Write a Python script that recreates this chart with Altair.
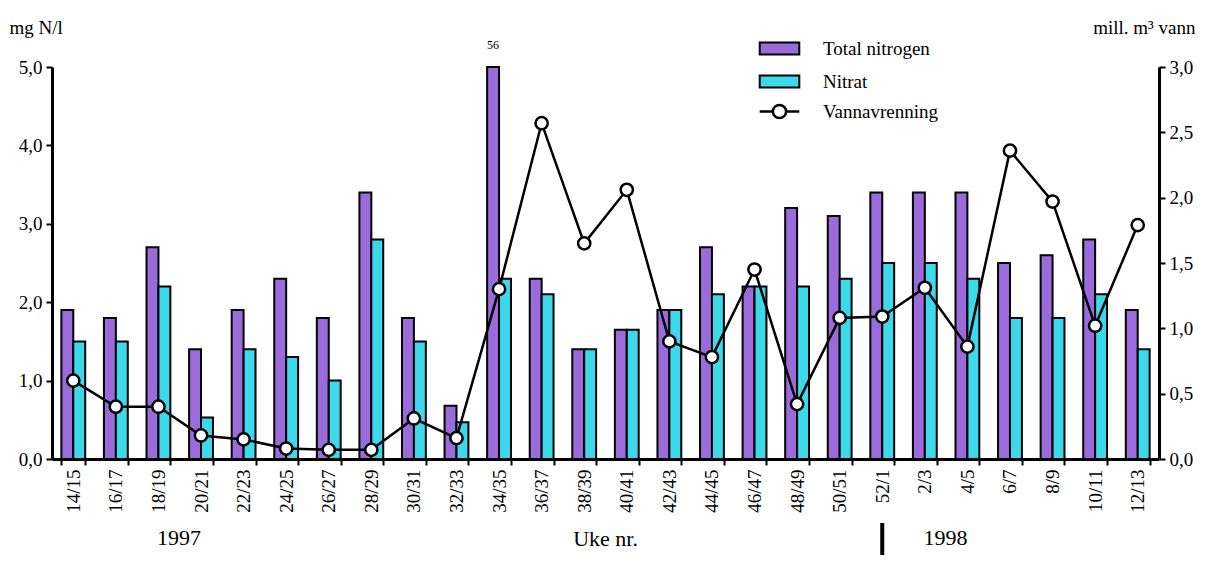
import altair as alt
import pandas as pd

weeks = ["14/15", "16/17", "18/19", "20/21", "22/23", "24/25", "26/27", "28/29",
         "30/31", "32/33", "34/35", "36/37", "38/39", "40/41", "42/43", "44/45",
         "46/47", "48/49", "50/51", "52/1", "2/3", "4/5", "6/7", "8/9", "10/11", "12/13"]
total_n = [1.9, 1.8, 2.7, 1.4, 1.9, 2.3, 1.8, 3.4, 1.8, 0.68, 56, 2.3, 1.4, 1.65,
           1.9, 2.7, 2.2, 3.2, 3.1, 3.4, 3.4, 3.4, 2.5, 2.6, 2.8, 1.9]
nitrat = [1.5, 1.5, 2.2, 0.53, 1.4, 1.3, 1.0, 2.8, 1.5, 0.47, 2.3, 2.1, 1.4, 1.65,
          1.9, 2.1, 2.2, 2.2, 2.3, 2.5, 2.5, 2.3, 1.8, 1.8, 2.1, 1.4]
runoff = [0.60, 0.40, 0.40, 0.18, 0.15, 0.08, 0.07, 0.07, 0.31, 0.16, 1.30, 2.57,
          1.65, 2.06, 0.90, 0.78, 1.45, 0.42, 1.08, 1.09, 1.31, 0.86, 2.36, 1.97,
          1.02, 1.79]
series = ["Total nitrogen", "Nitrat"]
colors = ["#9b6bdb", "#3cd9ea"]
line_label = "Vannavrenning"
year_labels = ["1997", "1998"]
year_anchor = ["20/21", "4/5"]
year_break = ["52/1"]

FONT = "Liberation Serif"
W, H = 1107, 392
FS = 19

bars_df = pd.DataFrame({
    "week": weeks * 2,
    "series": [series[0]] * len(weeks) + [series[1]] * len(weeks),
    "value": total_n + nitrat,
})
line_df = pd.DataFrame({"week": weeks, "runoff": runoff, "label": [line_label] * len(weeks)})
years_df = pd.DataFrame({"week": year_anchor, "text": year_labels})
break_df = pd.DataFrame({"week": year_break})

comma = "replace(format(datum.value, '.1f'), '.', ',')"

xscale = alt.Scale(domain=weeks, paddingInner=0.44, paddingOuter=0.22)
x_enc = alt.X("week:N", sort=weeks, scale=xscale, axis=alt.Axis(
    title="Uke nr.", labelAngle=270, tickBand="extent", tickSize=6, tickWidth=2,
    tickColor="black", domainColor="black", domainWidth=3, labelFont=FONT,
    labelFontSize=FS, labelColor="black", labelPadding=4, titleFont=FONT,
    titleFontSize=22, titleFontWeight="normal", titleColor="black",
    titleX=553, titleY=86, titleAlign="center", titleBaseline="alphabetic", grid=False))

y_left = alt.Y("value:Q", scale=alt.Scale(domain=[0, 5], clamp=True, nice=False),
    axis=alt.Axis(title="mg N/l", orient="left",
                  values=[0, 0.5, 1, 1.5, 2, 2.5, 3, 3.5, 4, 4.5, 5],
                  labelExpr="datum.value % 1 == 0 ? " + comma + " : ''",
                  tickSize=6, tickWidth=2, tickColor="black", domainColor="black",
                  domainWidth=3, labelFont=FONT, labelFontSize=FS, labelColor="black",
                  labelPadding=4, titleFont=FONT, titleFontSize=FS,
                  titleFontWeight="normal", titleColor="black", titleAngle=0,
                  titleAlign="left", titleBaseline="alphabetic", titleX=-43, titleY=-34,
                  grid=False))

rect_path = "M-3.3,-1H3.3V1H-3.3Z"
bars = alt.Chart(bars_df).mark_bar(stroke="black", strokeWidth=2).encode(
    x=x_enc,
    xOffset=alt.XOffset("series:N", sort=series,
                        scale=alt.Scale(domain=series, paddingInner=0, paddingOuter=0)),
    y=y_left,
    fill=alt.Fill("series:N", sort=series, scale=alt.Scale(domain=series, range=colors),
                  legend=alt.Legend(title=None, orient="none", legendX=718, legendY=-28,
                                    symbolType=rect_path, symbolSize=144,
                                    symbolStrokeColor="black", symbolStrokeWidth=2,
                                    labelOffset=34, labelFont=FONT, labelFontSize=FS,
                                    labelColor="black", rowPadding=12, padding=0)),
)

big_text = alt.Chart(bars_df).transform_filter("datum.value > 5").mark_text(
    font=FONT, fontSize=12, color="black", dy=-22).encode(
    x=alt.X("week:N", sort=weeks, scale=xscale),
    xOffset=alt.XOffset("series:N", sort=series,
                        scale=alt.Scale(domain=series, paddingInner=0, paddingOuter=0)),
    y=alt.Y("value:Q", scale=alt.Scale(domain=[0, 5], clamp=True, nice=False)),
    text=alt.Text("value:Q", format="d"),
)

years = alt.Chart(years_df).mark_text(font=FONT, fontSize=22, color="black",
                                      baseline="alphabetic", dx=-22).encode(
    x=alt.X("week:N", sort=weeks, scale=xscale),
    y=alt.value(478),
    text="text:N",
)
brk = alt.Chart(break_df).mark_rule(color="black", strokeWidth=4).encode(
    x=alt.X("week:N", sort=weeks, scale=xscale),
    y=alt.value(456),
    y2=alt.value(H + 96),
)

left = alt.layer(bars, big_text, years, brk)

y_right = alt.Y("runoff:Q", scale=alt.Scale(domain=[0, 3], nice=False),
    axis=alt.Axis(title="mill. m³ vann", orient="right",
                  values=[0, 0.5, 1, 1.5, 2, 2.5, 3], labelExpr=comma,
                  tickSize=6, tickWidth=2, tickColor="black", domainColor="black",
                  domainWidth=3, labelFont=FONT, labelFontSize=FS, labelColor="black",
                  labelPadding=4, titleFont=FONT, titleFontSize=FS,
                  titleFontWeight="normal", titleColor="black", titleAngle=0,
                  titleAlign="right", titleBaseline="alphabetic", titleX=36, titleY=-34,
                  grid=False))

line_path = "M-3.3,0H-1.1M1.1,0H3.3M-1.1,0A1.1,1.1 0 1,0 1.1,0A1.1,1.1 0 1,0 -1.1,0Z"
line = alt.Chart(line_df).mark_line(strokeWidth=2.5).encode(
    x=alt.X("week:N", sort=weeks, scale=xscale),
    y=y_right,
    stroke=alt.Stroke("label:N", scale=alt.Scale(domain=[line_label], range=["black"]),
                      legend=alt.Legend(title=None, orient="none", legendX=718, legendY=35,
                                        symbolType=line_path, symbolSize=144,
                                        symbolFillColor="white", symbolStrokeWidth=2.5,
                                        labelOffset=34, labelFont=FONT, labelFontSize=FS,
                                        labelColor="black", padding=0)),
)
points = alt.Chart(line_df).mark_point(filled=True, fill="white", stroke="black",
                                       strokeWidth=2.5, size=150, opacity=1).encode(
    x=alt.X("week:N", sort=weeks, scale=xscale),
    y=alt.Y("runoff:Q", scale=alt.Scale(domain=[0, 3], nice=False)),
)
right = alt.layer(line, points)

chart = alt.layer(left, right).resolve_scale(y="independent").properties(
    width=W, height=H,
    autosize=alt.AutoSizeParams(type="none"),
    padding={"left": 44, "top": 59, "right": 40, "bottom": 96},
).configure(font=FONT, background="white").configure_view(stroke=None)

chart.save("out.html", embed_options={"renderer": "svg", "actions": False})
